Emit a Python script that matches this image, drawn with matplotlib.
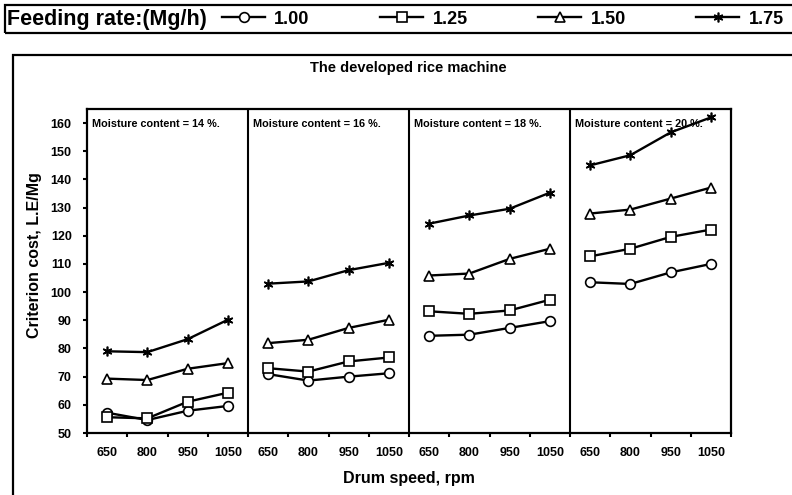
import matplotlib.pyplot as plt
from matplotlib.patches import Rectangle

plt.rcParams['font.family'] = ['Liberation Sans', 'DejaVu Sans']

# drum speeds (rpm) and moisture contents (%)
speeds = ['650', '800', '950', '1050']
moisture = [14, 16, 18, 20]

# criterion cost (L.E/Mg), 4 speeds per moisture panel, panels in order 14,16,18,20 %
rate_100 = [57.2, 54.6, 57.9, 59.6,   70.9, 68.6, 70.0, 71.2,
            84.5, 84.9, 87.3, 89.7,   103.5, 102.9, 107.0, 110.0]
rate_125 = [55.6, 55.2, 61.1, 64.3,   73.0, 71.8, 75.4, 76.8,
            93.2, 92.3, 93.5, 97.3,   112.7, 115.4, 119.6, 122.2]
rate_150 = [69.3, 68.8, 72.8, 74.8,   81.9, 83.1, 87.3, 90.2,
            105.9, 106.6, 111.8, 115.4,   127.9, 129.3, 133.2, 137.1]
rate_175 = [79.0, 78.7, 83.3, 90.2,   103.0, 103.8, 107.8, 110.4,
            124.3, 127.2, 129.6, 135.3,   145.0, 148.6, 156.7, 162.0]

series = [('1.00', rate_100, 'o'), ('1.25', rate_125, 's'),
          ('1.50', rate_150, '^'), ('1.75', rate_175, (6, 2, 0))]

fig = plt.figure(figsize=(7.92, 4.95), dpi=100)
ax = fig.add_axes([87 / 792, 1 - 433 / 495, (731 - 87) / 792, (433 - 109) / 495])

handles = []
for label, vals, mk in series:
    for p in range(4):
        xs = [p * 4 + j + 0.5 for j in range(4)]
        ln, = ax.plot(xs, vals[p * 4:(p + 1) * 4], color='black', lw=1.7,
                      marker=mk, ms=7 if mk != 's' else 6.5, mfc='white',
                      mec='black', mew=1.2)
    handles.append(ln)

for p in range(1, 4):
    ax.axvline(p * 4, color='black', lw=1.5)
for p, m in enumerate(moisture):
    ax.text(p * 4 + 0.12, 159.5, f'Moisture content = {m} %.', fontsize=7.8,
            fontweight='bold', va='center', ha='left')

ax.set_xlim(0, 16)
ax.set_ylim(50, 165)
ax.set_yticks(range(50, 161, 10))
ax.set_xticks(range(17))
ax.set_xticklabels([])
ax.set_xticks([k + 0.5 for k in range(16)], minor=True)
ax.set_xticklabels(speeds * 4, minor=True, fontsize=9, fontweight='bold')
ax.tick_params(axis='x', which='minor', length=0, pad=10)
ax.tick_params(axis='x', which='major', direction='out', length=3, width=1.5)
ax.tick_params(axis='y', direction='out', length=3, width=1.5, labelsize=9, pad=8)
for t in ax.get_yticklabels():
    t.set_fontweight('bold')
for s in ax.spines.values():
    s.set_linewidth(1.6)

ax.set_xlabel('Drum speed, rpm', fontsize=11.5, fontweight='bold', labelpad=9)
ax.set_ylabel('Criterion cost, L.E/Mg', fontsize=11.5, fontweight='bold')
ax.yaxis.set_label_coords(-0.07, 0.55)
fig.text(0.515, 1 - 68 / 495, 'The developed rice machine', fontsize=10.5,
         fontweight='bold', ha='center', va='center')

# outer frame and legend bar
fig.patches.append(Rectangle((13 / 792, -0.2), 1.2, 1.2 - 55 / 495, transform=fig.transFigure,
                             fill=False, lw=1.6, ec='black'))
fig.patches.append(Rectangle((5 / 792, 1 - 33 / 495), 1.2, 28 / 495, transform=fig.transFigure,
                             fill=False, lw=1.6, ec='black'))
fig.text(7 / 792, 1 - 19 / 495, 'Feeding rate:(Mg/h)', fontsize=15.5, fontweight='bold',
         va='center', ha='left')
fig.legend(handles, [s[0] for s in series], ncol=4, frameon=False,
           prop={'size': 13, 'weight': 'bold'},
           loc='center left', bbox_to_anchor=(222 / 792, 1 - 19 / 495),
           handlelength=2.4, columnspacing=3.9, handletextpad=0.5,
           borderpad=0, borderaxespad=0)

fig.savefig('out.png', dpi=100)
